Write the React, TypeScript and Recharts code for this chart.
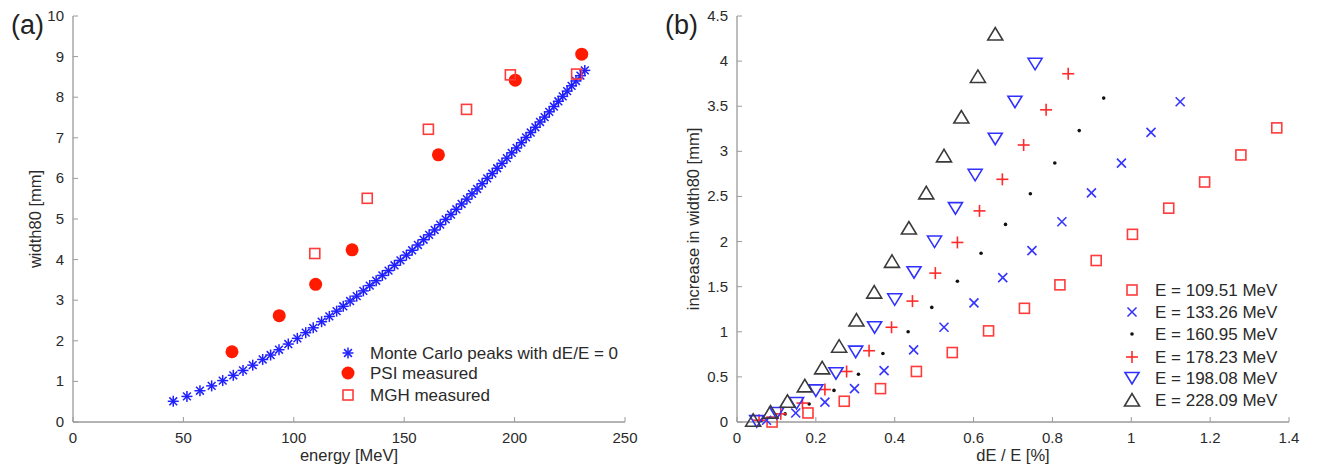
import { ScatterChart, Scatter, XAxis, YAxis } from "recharts";

const font = '"Liberation Sans", Arial, Helvetica, sans-serif';
const axisGrey = "#9a9a9a";
const textColor = "#2a2a2a";

// ---- panel (a): width80 vs energy ----
const mcEnergy = [
  45.4, 51.6, 57.5, 62.8, 67.8, 72.6, 77.0, 81.4, 85.9, 89.5, 93.3, 97.5, 101.6, 105.4, 108.8,
  112.6, 116.1, 119.4, 122.4, 125.5, 128.5, 131.5, 134.4, 137.3, 140.1, 142.9, 145.6, 148.3,
  151.0, 153.6, 156.2, 158.8, 161.3, 163.8, 166.3, 168.8, 171.2, 173.6, 176.0, 178.4, 180.7,
  183.0, 185.3, 187.6, 189.9, 192.1, 194.3, 196.5, 198.7, 200.9, 203.1, 205.2, 207.3, 209.4,
  211.5, 213.6, 215.7, 217.8, 219.8, 221.8, 223.8, 225.8, 227.8, 229.8, 231.8,
];
const mcWidth = [
  0.51, 0.63, 0.77, 0.89, 1.02, 1.15, 1.27, 1.4, 1.54, 1.65, 1.78, 1.92, 2.06, 2.2, 2.32, 2.47,
  2.6, 2.73, 2.85, 2.98, 3.1, 3.23, 3.36, 3.48, 3.61, 3.73, 3.86, 3.98, 4.11, 4.23, 4.36, 4.49,
  4.61, 4.73, 4.86, 4.99, 5.11, 5.24, 5.37, 5.49, 5.62, 5.74, 5.87, 6.0, 6.12, 6.25, 6.37, 6.5,
  6.63, 6.75, 6.88, 7.01, 7.13, 7.26, 7.39, 7.51, 7.64, 7.77, 7.9, 8.02, 8.15, 8.28, 8.4, 8.53,
  8.66,
];
const psiEnergy = [72.0, 93.4, 109.9, 126.4, 165.5, 200.3, 230.4];
const psiWidth = [1.73, 2.62, 3.39, 4.24, 6.58, 8.42, 9.06];
const mghEnergy = [109.51, 133.26, 160.95, 178.23, 198.08, 228.09];
const mghWidth = [4.15, 5.51, 7.21, 7.7, 8.55, 8.57];
const legendA = ["Monte Carlo peaks with dE/E = 0", "PSI measured", "MGH measured"];
const ticksAX = [0, 50, 100, 150, 200, 250];
const ticksAY = [0, 1, 2, 3, 4, 5, 6, 7, 8, 9, 10];

// ---- panel (b): increase in width80 vs dE/E ----
const beamLabels = ["109.51", "133.26", "160.95", "178.23", "198.08", "228.09"];
const spread109 = [0.089, 0.18, 0.272, 0.364, 0.455, 0.546, 0.638, 0.729, 0.819, 0.911, 1.003, 1.095, 1.186, 1.278, 1.369];
const inc109 = [0.0, 0.1, 0.23, 0.37, 0.56, 0.77, 1.01, 1.26, 1.52, 1.79, 2.08, 2.37, 2.66, 2.96, 3.26];
const spread133 = [0.075, 0.149, 0.223, 0.298, 0.373, 0.448, 0.525, 0.601, 0.674, 0.748, 0.824, 0.899, 0.975, 1.05, 1.124];
const inc133 = [0.02, 0.1, 0.22, 0.37, 0.57, 0.8, 1.05, 1.32, 1.6, 1.9, 2.22, 2.54, 2.87, 3.21, 3.55];
const spread161 = [0.062, 0.122, 0.183, 0.246, 0.308, 0.37, 0.434, 0.494, 0.559, 0.619, 0.681, 0.744, 0.806, 0.868, 0.93];
const inc161 = [0.02, 0.09, 0.2, 0.35, 0.53, 0.76, 1.0, 1.27, 1.56, 1.87, 2.19, 2.53, 2.87, 3.23, 3.59];
const spread178 = [0.056, 0.111, 0.166, 0.223, 0.278, 0.335, 0.392, 0.445, 0.503, 0.559, 0.615, 0.673, 0.727, 0.784, 0.84];
const inc178 = [0.02, 0.09, 0.21, 0.36, 0.56, 0.79, 1.05, 1.34, 1.65, 1.99, 2.34, 2.69, 3.07, 3.46, 3.86];
const spread198 = [0.05, 0.101, 0.151, 0.2, 0.251, 0.301, 0.349, 0.4, 0.449, 0.501, 0.554, 0.604, 0.655, 0.705, 0.756];
const inc198 = [0.01, 0.1, 0.21, 0.35, 0.54, 0.78, 1.05, 1.36, 1.66, 2.0, 2.37, 2.74, 3.14, 3.55, 3.97];
const spread228 = [0.041, 0.085, 0.128, 0.172, 0.216, 0.259, 0.303, 0.348, 0.393, 0.436, 0.48, 0.525, 0.569, 0.611, 0.655];
const inc228 = [0.02, 0.11, 0.23, 0.4, 0.6, 0.84, 1.13, 1.44, 1.78, 2.15, 2.54, 2.95, 3.38, 3.83, 4.3];
const ticksBX = [0, 0.2, 0.4, 0.6, 0.8, 1, 1.2, 1.4];
const ticksBY = [0, 0.5, 1, 1.5, 2, 2.5, 3, 3.5, 4, 4.5];

const pts = (xs: number[], ys: number[]) => xs.map((x, i) => ({ x, y: ys[i] }));

// ---- markers ----
const Star = ({ cx, cy }: any) => {
  const r = 5.5, d = 3.9;
  return (
    <g stroke="#1f1fff" strokeWidth={1.5}>
      <line x1={cx - r} y1={cy} x2={cx + r} y2={cy} />
      <line x1={cx} y1={cy - r} x2={cx} y2={cy + r} />
      <line x1={cx - d} y1={cy - d} x2={cx + d} y2={cy + d} />
      <line x1={cx - d} y1={cy + d} x2={cx + d} y2={cy - d} />
    </g>
  );
};
const Dot = ({ cx, cy }: any) => <circle cx={cx} cy={cy} r={6.5} fill="#ff1a00" />;
const Square = ({ cx, cy }: any) => (
  <rect x={cx - 5} y={cy - 5} width={10} height={10} fill="none" stroke="#ff3b3b" strokeWidth={1.6} />
);
const Cross = ({ cx, cy }: any) => (
  <g stroke="#3535ff" strokeWidth={1.6}>
    <line x1={cx - 4.5} y1={cy - 4.5} x2={cx + 4.5} y2={cy + 4.5} />
    <line x1={cx - 4.5} y1={cy + 4.5} x2={cx + 4.5} y2={cy - 4.5} />
  </g>
);
const Point = ({ cx, cy }: any) => <circle cx={cx} cy={cy} r={1.8} fill="#111" />;
const Plus = ({ cx, cy }: any) => (
  <g stroke="#ff2a2a" strokeWidth={1.6}>
    <line x1={cx - 6} y1={cy} x2={cx + 6} y2={cy} />
    <line x1={cx} y1={cy - 6} x2={cx} y2={cy + 6} />
  </g>
);
const TriDown = ({ cx, cy }: any) => (
  <polygon
    points={`${cx - 7},${cy - 5.5} ${cx + 7},${cy - 5.5} ${cx},${cy + 6}`}
    fill="none"
    stroke="#3030ff"
    strokeWidth={1.6}
  />
);
const TriUp = ({ cx, cy }: any) => (
  <polygon
    points={`${cx - 7.5},${cy + 6} ${cx + 7.5},${cy + 6} ${cx},${cy - 6.5}`}
    fill="none"
    stroke="#3a3a3a"
    strokeWidth={1.6}
  />
);

const seriesB = [
  { spread: spread109, inc: inc109, shape: Square },
  { spread: spread133, inc: inc133, shape: Cross },
  { spread: spread161, inc: inc161, shape: Point },
  { spread: spread178, inc: inc178, shape: Plus },
  { spread: spread198, inc: inc198, shape: TriDown },
  { spread: spread228, inc: inc228, shape: TriUp },
];

// ---- ticks: labels outside, tick marks pointing inward ----
const YTick = ({ x, y, payload }: any) => (
  <g>
    <line x1={x + 8} x2={x + 13} y1={y} y2={y} stroke={axisGrey} strokeWidth={1} />
    <text x={x - 1} y={y} dy={5} textAnchor="end" fontSize={15} fill={textColor} fontFamily={font}>
      {payload.value}
    </text>
  </g>
);
const XTick = ({ x, y, payload }: any) => (
  <g>
    <line x1={x} x2={x} y1={y - 8} y2={y - 13} stroke={axisGrey} strokeWidth={1} />
    <text x={x} y={y} dy={13} textAnchor="middle" fontSize={15} fill={textColor} fontFamily={font}>
      {payload.value}
    </text>
  </g>
);

// legends drawn in an overlay so they do not take space from the plot areas
const LegendA = ({ left, top }: { left: number; top: number }) => {
  const shapes = [Star, Dot, Square];
  const rows = [15, 35, 57];
  return (
    <g transform={`translate(${left},${top})`}>
      {legendA.map((t, i) => {
        const S = shapes[i];
        return (
          <g key={t}>
            <S cx={18} cy={rows[i]} />
            <text x={40} y={rows[i] + 6} fontSize={17} fill={textColor} fontFamily={font}>
              {t}
            </text>
          </g>
        );
      })}
    </g>
  );
};

const LegendB = ({ left, top }: { left: number; top: number }) => {
  const rows = [15, 37, 59, 82, 103, 125];
  return (
    <g transform={`translate(${left},${top})`}>
      {beamLabels.map((e, i) => {
        const S = seriesB[i].shape;
        return (
          <g key={e}>
            <S cx={17} cy={rows[i]} />
            <text x={40} y={rows[i] + 6} fontSize={17} fill={textColor} fontFamily={font}>
              {`E = ${e} MeV`}
            </text>
          </g>
        );
      })}
    </g>
  );
};

const axisLine = { stroke: axisGrey, strokeWidth: 1.3 };
const labelStyle = { fontSize: 16.5, fill: textColor, fontFamily: font };

export default function App() {
  return (
    <div style={{ position: "absolute", left: 0, top: 0, width: 1321, height: 470, background: "#fff", fontFamily: font }}>
      <div style={{ position: "absolute", left: 0, top: 0 }}>
        <ScatterChart width={660} height={470} margin={{ top: 16, right: 35, bottom: 18, left: 23 }}>
          <XAxis
            type="number"
            dataKey="x"
            domain={[0, 250]}
            ticks={ticksAX}
            tickSize={0}
            tickMargin={8}
            tickLine={false}
            axisLine={axisLine}
            tick={<XTick />}
            height={30}
            label={{ value: "energy [MeV]", position: "bottom", offset: -3, style: labelStyle }}
          />
          <YAxis
            type="number"
            dataKey="y"
            domain={[0, 10]}
            ticks={ticksAY}
            tickSize={0}
            tickMargin={8}
            tickLine={false}
            axisLine={axisLine}
            tick={<YTick />}
            width={50}
            label={{ value: "width80 [mm]", angle: -90, position: "insideLeft", offset: 12, style: { ...labelStyle, textAnchor: "middle" } }}
          />
          <Scatter data={pts(mcEnergy, mcWidth)} shape={Star} isAnimationActive={false} />
          <Scatter data={pts(psiEnergy, psiWidth)} shape={Dot} isAnimationActive={false} />
          <Scatter data={pts(mghEnergy, mghWidth)} shape={Square} isAnimationActive={false} />
        </ScatterChart>
      </div>
      <div style={{ position: "absolute", left: 660, top: 0 }}>
        <ScatterChart width={661} height={470} margin={{ top: 16, right: 32, bottom: 18, left: 27 }}>
          <XAxis
            type="number"
            dataKey="x"
            domain={[0, 1.4]}
            ticks={ticksBX}
            tickSize={0}
            tickMargin={8}
            tickLine={false}
            axisLine={axisLine}
            tick={<XTick />}
            height={30}
            label={{ value: "dE / E [%]", position: "bottom", offset: -3, style: labelStyle }}
          />
          <YAxis
            type="number"
            dataKey="y"
            domain={[0, 4.5]}
            ticks={ticksBY}
            tickSize={0}
            tickMargin={8}
            tickLine={false}
            axisLine={axisLine}
            tick={<YTick />}
            width={50}
            label={{ value: "increase in width80 [mm]", angle: -90, position: "insideLeft", offset: 6, style: { ...labelStyle, textAnchor: "middle" } }}
          />
          {seriesB.map((s, i) => (
            <Scatter key={beamLabels[i]} data={pts(s.spread, s.inc)} shape={s.shape} isAnimationActive={false} />
          ))}
        </ScatterChart>
      </div>
      <svg width={1321} height={470} style={{ position: "absolute", left: 0, top: 0, pointerEvents: "none" }}>
        <text x={11} y={34} fontSize={27} fill="#222" fontFamily={font}>(a)</text>
        <text x={665} y={34} fontSize={27} fill="#222" fontFamily={font}>(b)</text>
        <LegendA left={330} top={338} />
        <LegendB left={1115} top={275} />
      </svg>
    </div>
  );
}
